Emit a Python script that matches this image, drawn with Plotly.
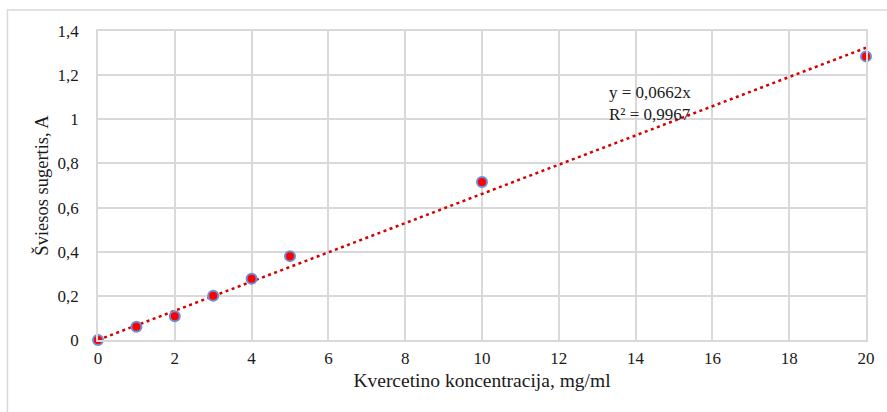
import plotly.graph_objects as go

# Quercetin calibration data
concentration = [0, 1, 2, 3, 4, 5, 10, 20]
absorbance = [0.0, 0.06, 0.108, 0.2, 0.277, 0.38, 0.716, 1.285]

# Linear trendline through the origin
slope = 0.0662
r_squared = 0.9967
trend_x = [0, 20]
trend_y = [slope * v for v in trend_x]

font_family = "Liberation Serif"
grid_color = "#d9d9d9"
text_color = "#1a1a1a"

fig = go.Figure()

fig.add_trace(go.Scatter(
    x=trend_x, y=trend_y, mode="lines",
    line=dict(color="#d40000", width=2.5, dash="3px,3.5px"),
    hoverinfo="skip", showlegend=False, cliponaxis=False,
))

fig.add_trace(go.Scatter(
    x=concentration, y=absorbance, mode="markers",
    marker=dict(color="#ff0000", size=10, line=dict(color="#6a8fd8", width=2)),
    showlegend=False, cliponaxis=False,
))

fig.add_annotation(
    x=13.25, y=1.07, xref="x", yref="y",
    text=f"y = {str(slope).replace('.', ',')}x<br>R² = {str(r_squared).replace('.', ',')}",
    showarrow=False, xanchor="left", yanchor="middle", align="left",
    font=dict(family=font_family, size=17, color=text_color),
)

# Outer chart border
fig.add_shape(
    type="rect", xref="paper", yref="paper",
    x0=-91 / 772, x1=1.1, y0=-0.3, y1=1 + 21 / 309,
    line=dict(color=grid_color, width=1.5), fillcolor="rgba(0,0,0,0)", layer="below",
)

fig.update_layout(
    width=887, height=412,
    margin=dict(l=98, r=17, t=31, b=72),
    paper_bgcolor="white", plot_bgcolor="white",
    separators=",.",
    font=dict(family=font_family, size=17, color=text_color),
    xaxis=dict(
        range=[0, 20], dtick=2, tick0=0,
        showgrid=True, gridcolor=grid_color, gridwidth=1.5,
        showline=True, linecolor=grid_color, linewidth=1.5, mirror=True,
        zeroline=False, ticks="", ticklabelstandoff=2,
        tickfont=dict(family=font_family, size=17, color=text_color),
        title=dict(text="Kvercetino koncentracija, mg/ml", font=dict(family=font_family, size=19.5, color=text_color), standoff=6),
    ),
    yaxis=dict(
        range=[0, 1.4], dtick=0.2, tick0=0,
        showgrid=True, gridcolor=grid_color, gridwidth=1.5,
        showline=True, linecolor=grid_color, linewidth=1.5, mirror=True,
        zeroline=False, ticks="", ticklabelstandoff=14,
        tickfont=dict(family=font_family, size=17, color=text_color),
        title=dict(text="Šviesos sugertis, A", font=dict(family=font_family, size=18.5, color=text_color), standoff=4),
    ),
)

fig.write_html("out.html")
